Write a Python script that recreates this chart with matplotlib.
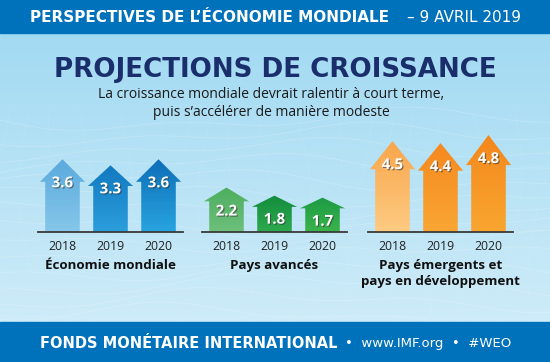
import matplotlib
matplotlib.use('Agg')
import matplotlib.pyplot as plt
import numpy as np
from matplotlib.patches import Polygon, Rectangle
from matplotlib.colors import LinearSegmentedColormap, to_rgb
import matplotlib.patheffects as pe

# ---------------- data ----------------
years = ['2018', '2019', '2020']
world = [3.6, 3.3, 3.6]
advanced = [2.2, 1.8, 1.7]
emerging = [4.5, 4.4, 4.8]
group_names = ['Économie mondiale', 'Pays avancés', 'Pays émergents et\npays en développement']

header_bold = 'PERSPECTIVES DE L’ÉCONOMIE MONDIALE'
header_light = '– 9 AVRIL 2019'
title = 'PROJECTIONS DE CROISSANCE'
subtitle_lines = ['La croissance mondiale devrait ralentir à court terme,',
                  'puis s’accélérer de manière modeste']
footer_bold = 'FONDS MONÉTAIRE INTERNATIONAL'
footer_light = '•  www.IMF.org  •  #WEO'

# colours (top, bottom) of each arrow gradient
world_cols = [('#5AAADD', '#86C7EA'), ('#1279C0', '#2C9EDC'), ('#0D6EB7', '#29A4E0')]
adv_cols = [('#4DAE5F', '#6EC07B'), ('#138C3E', '#2DAA4E'), ('#1D9A45', '#3AB44B')]
emg_cols = [('#F9A64C', '#FDCB82'), ('#F5891F', '#F9A634'), ('#F4871C', '#F9A630')]

FONT = ['Open Sans', 'DejaVu Sans']
WIDE = ['DejaVu Sans']
plt.rcParams['font.family'] = FONT

W, H = 550, 362
PX = 20.2          # pixels per percentage point
BASE = 232         # baseline (px from top)
fig = plt.figure(figsize=(W / 100, H / 100), dpi=100)

# ---------------- background ----------------
bg = fig.add_axes([0, 0, 1, 1])
bg.set_xlim(0, W)
bg.set_ylim(H, 0)
bg.axis('off')
c1 = np.array(to_rgb('#9DD8F2'))
c2 = np.array(to_rgb('#D4EEF9'))
t = np.linspace(0, 1, 256)[:, None, None]
grad = c1 * (1 - t) + c2 * t
grad = np.repeat(grad, 2, axis=1)
bg.imshow(grad, extent=(0, W, H, 0), aspect='auto', zorder=0)
# faint mesh
xx = np.linspace(0, W, 300)
for k in range(14):
    yy = 120 + k * 15 + 8 * np.sin(xx / 90 + k * 0.7) + 5 * np.sin(xx / 37 + k)
    bg.plot(xx, yy, color='white', lw=0.5, alpha=0.22, zorder=1)
for k in range(20):
    x0 = k * 30
    yv = np.linspace(110, 325, 100)
    bg.plot(x0 + 12 * np.sin(yv / 50 + k), yv, color='white', lw=0.4, alpha=0.12, zorder=1)

# banners
bg.add_patch(Rectangle((0, 0), W, 32.5, color='#0071BB', zorder=2))
bg.add_patch(Rectangle((0, 322), W, H - 322, color='#0071BB', zorder=2))

bg.text(30, 17, header_bold, color='white', fontsize=11.0, fontweight='bold',
        family=WIDE, va='center', ha='left', zorder=3)
bg.text(407, 17, header_light, color='white', fontsize=11.0,
        family=WIDE, va='center', ha='left', zorder=3)

bg.text(W / 2, 70, title, color='#1A2E6C', fontsize=18.8, fontweight='heavy',
        family=WIDE, ha='center', va='center', zorder=3)
for j, line in enumerate(subtitle_lines):
    bg.text(271, 95 + 18 * j, line, color='#1a1a1a', fontsize=10.0, ha='center',
            va='center', zorder=3)

bg.text(40, 344, footer_bold, color='white', fontsize=10.5, fontweight='bold',
        family=WIDE, va='center', ha='left', zorder=3)
bg.text(345, 344, footer_light, color='white', fontsize=9.5,
        family=WIDE, va='center', ha='left', zorder=3)

# ---------------- arrow groups ----------------
groups = [(world, world_cols, 38), (advanced, adv_cols, 202), (emerging, emg_cols, 368)]
GW = 145
YMAX = 5.2
shaft_hw = 0.36
head_hw = 0.47

for gi, (vals, cols, left) in enumerate(groups):
    ax = fig.add_axes([left / W, (H - BASE) / H, GW / W, YMAX * PX / H])
    ax.patch.set_alpha(0)
    for i, (v, (ctop, cbot)) in enumerate(zip(vals, cols)):
        hl = 0.31 * v
        pts = [(i - shaft_hw, 0), (i - shaft_hw, v - hl), (i - head_hw, v - hl), (i, v),
               (i + head_hw, v - hl), (i + shaft_hw, v - hl), (i + shaft_hw, 0)]
        poly = Polygon(pts, closed=True, facecolor='none', edgecolor='none')
        ax.add_patch(poly)
        cmap = LinearSegmentedColormap.from_list('g', [cbot, ctop])
        im = ax.imshow(np.linspace(0, 1, 100)[:, None], extent=(i - head_hw, i + head_hw, 0, v),
                       origin='lower', aspect='auto', cmap=cmap, zorder=2)
        im.set_clip_path(poly)
        ax.text(i, v - 24 / PX, f'{v:.1f}', color='white', fontsize=10.8, fontweight='bold',
                ha='center', va='center', zorder=4,
                path_effects=[pe.SimplePatchShadow(offset=(0.8, -0.8), shadow_rgbFace='#333333', alpha=0.6),
                              pe.Normal()])
    ax.set_xlim(-0.51, 2.51)
    ax.set_ylim(0, YMAX)
    for s in ['top', 'left', 'right']:
        ax.spines[s].set_visible(False)
    ax.spines['bottom'].set_color('#3a3a3a')
    ax.spines['bottom'].set_linewidth(1.3)
    ax.set_yticks([])
    ax.set_xticks(range(len(years)))
    ax.set_xticklabels(years, fontsize=8.8, color='#222222')
    ax.tick_params(axis='x', length=0, pad=6)
    ax.text(0.5, -27 / (YMAX * PX), group_names[gi], transform=ax.transAxes, ha='center',
            va='top', fontsize=9.6, fontweight='bold', color='#111111', linespacing=1.3)

fig.savefig('out.png', dpi=100)
